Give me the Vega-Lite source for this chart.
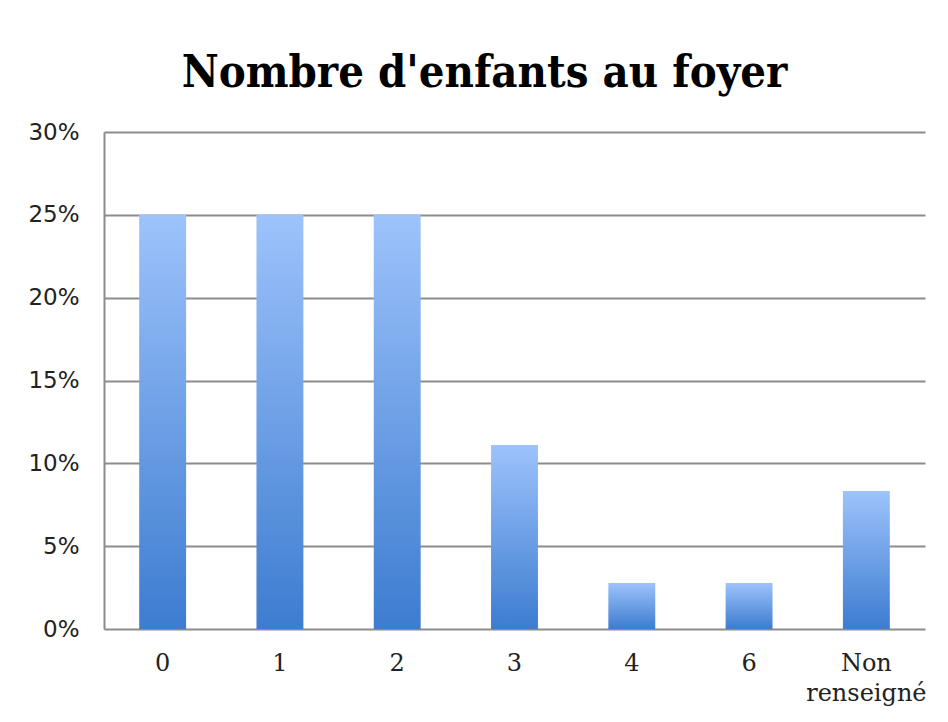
{
  "$schema": "https://vega.github.io/schema/vega-lite/v6.json",
  "width": 821,
  "height": 497,
  "autosize": "none",
  "padding": {"left": 104, "top": 132, "right": 23, "bottom": 93},
  "background": "white",
  "title": {
    "text": "Nombre d'enfants au foyer",
    "font": "DejaVu Serif Condensed",
    "fontWeight": "bold",
    "fontSize": 45,
    "color": "black",
    "anchor": "middle",
    "dx": -30,
    "offset": 25
  },
  "data": {
    "values": [
      {"categorie": "0", "part": 0.25},
      {"categorie": "1", "part": 0.25},
      {"categorie": "2", "part": 0.25},
      {"categorie": "3", "part": 0.1111},
      {"categorie": "4", "part": 0.0278},
      {"categorie": "6", "part": 0.0278},
      {"categorie": "Non renseigné", "part": 0.0833}
    ]
  },
  "mark": {
    "type": "bar",
    "color": {
      "gradient": "linear",
      "x1": 0, "y1": 0, "x2": 0, "y2": 1,
      "stops": [
        {"offset": 0, "color": "#9DC3FB"},
        {"offset": 1, "color": "#3D7CD0"}
      ]
    }
  },
  "encoding": {
    "x": {
      "field": "categorie",
      "type": "nominal",
      "sort": null,
      "scale": {"paddingInner": 0.6, "paddingOuter": 0.3},
      "axis": {
        "title": null,
        "labelAngle": 0,
        "labelFont": "DejaVu Serif",
        "labelFontSize": 24,
        "labelColor": "#222",
        "labelPadding": 22,
        "labelBaseline": "top",
        "labelLineHeight": 30,
        "labelExpr": "datum.label == 'Non renseigné' ? ['Non', 'renseigné'] : datum.label",
        "ticks": false,
        "domain": false
      }
    },
    "y": {
      "field": "part",
      "type": "quantitative",
      "scale": {"domain": [0, 0.3]},
      "axis": {
        "title": null,
        "format": ".0%",
        "values": [0, 0.05, 0.1, 0.15, 0.2, 0.25, 0.3],
        "labelFont": "DejaVu Sans",
        "labelFontSize": 23,
        "labelColor": "#222",
        "labelPadding": 25,
        "ticks": false,
        "domain": true,
        "domainColor": "#8c8c8c",
        "domainWidth": 2,
        "grid": true,
        "gridColor": "#8c8c8c",
        "gridWidth": 2
      }
    }
  },
  "config": {
    "view": {"stroke": null}
  }
}
